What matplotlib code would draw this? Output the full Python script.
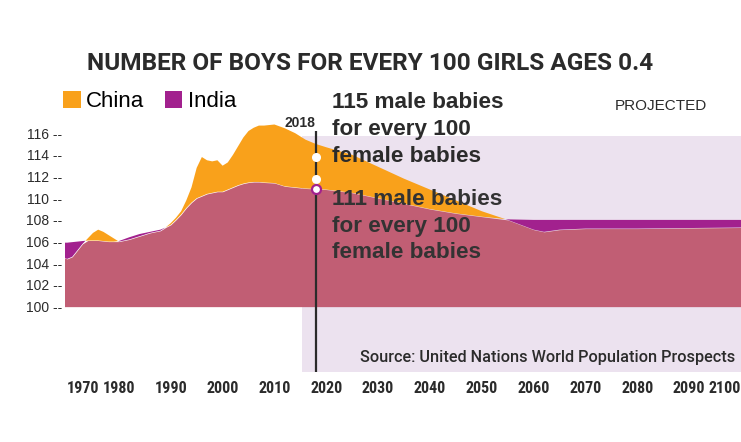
import numpy as np
import matplotlib
matplotlib.use("Agg")
import matplotlib.pyplot as plt
from matplotlib.patches import Patch, Rectangle
from matplotlib import font_manager as fm

# ---------------- data ----------------
years = [1969, 1970, 1971, 1972, 1973, 1974, 1975, 1976, 1977, 1978, 1979, 1980,
         1982, 1984, 1986, 1988, 1989, 1990, 1991, 1992, 1993, 1994, 1995, 1996,
         1997, 1998, 1999, 2000, 2001, 2002, 2003, 2004, 2005, 2006, 2007, 2008,
         2010, 2012, 2014, 2016, 2018, 2020, 2025, 2030, 2035, 2040, 2045, 2050,
         2055, 2060, 2062, 2065, 2070, 2080, 2090, 2100]
china = [104.6, 104.4, 104.6, 105.2, 105.8, 106.3, 106.8, 107.1, 106.9, 106.6, 106.3, 106.0,
         106.2, 106.5, 106.8, 107.0, 107.3, 107.7, 108.2, 108.8, 109.8, 111.0, 112.8, 113.8,
         113.5, 113.4, 113.5, 113.0, 113.3, 114.0, 114.8, 115.6, 116.2, 116.5, 116.7, 116.7,
         116.8, 116.45, 116.0, 115.4, 115.0, 114.7, 114.0, 112.9, 111.8, 110.8, 109.8, 108.8,
         108.0, 107.1, 106.9, 107.1, 107.2, 107.2, 107.25, 107.3]
india = [105.9, 105.9, 105.95, 106.0, 106.05, 106.1, 106.1, 106.1, 106.05, 106.0, 106.0, 106.05,
         106.4, 106.7, 106.9, 107.1, 107.3, 107.55, 108.0, 108.5, 109.1, 109.6, 110.0, 110.2,
         110.4, 110.5, 110.6, 110.6, 110.8, 111.0, 111.2, 111.35, 111.45, 111.5, 111.5, 111.45,
         111.4, 111.1, 111.0, 110.9, 110.85, 110.8, 110.5, 110.0, 109.5, 109.0, 108.6, 108.3,
         108.05, 108.0, 108.0, 108.0, 108.0, 108.0, 108.0, 108.0]
series_names = ["China", "India"]
x_ticks = [1970, 1980, 1990, 2000, 2010, 2020, 2030, 2040, 2050, 2060, 2070, 2080, 2090, 2100]
y_ticks = [100, 102, 104, 106, 108, 110, 112, 114, 116]
marker_year = 2018
marker_values = [113.84, 111.8]       # white dots on the 2018 line
india_marker_value = 110.85           # ring dot on India curve
projected_start = 2015.3
projected_top = 115.7

# ---------------- style ----------------
ORANGE = "#F9A11B"
PURPLE = "#A2218E"
ROSE = "#C15E74"
LAVENDER = "#ECE2EF"
DARK = "#2B2B2B"

W, H = 741, 442
fig = plt.figure(figsize=(W / 100, H / 100), dpi=100)

installed = {f.name for f in fm.fontManager.ttflist}
NARROW = [f for f in ["Liberation Sans Narrow", "Roboto Condensed", "Roboto", "DejaVu Sans"]
          if f in installed][:1] + ["DejaVu Sans"]
ROBO = [f for f in ["Roboto", "Liberation Sans"] if f in installed][:1] + ["DejaVu Sans"]
SANS = ["Liberation Sans", "DejaVu Sans"]

def fx(px):
    return px / W

def fy(py):
    return 1 - py / H

def fit_width(txt, target_px):
    r = fig.canvas.get_renderer()
    w = txt.get_window_extent(renderer=r).width
    txt.set_fontsize(txt.get_fontsize() * target_px / w)

ax_left, ax_right, ax_top, ax_bot = 65, 741, 89.8, 371.7
ax = fig.add_axes([fx(ax_left), fy(ax_bot), (ax_right - ax_left) / W, (ax_bot - ax_top) / H])
ax.set_xlim(1969.6, 2100)
ax.set_ylim(94, 120)
for s in ax.spines.values():
    s.set_visible(False)

# projected region
ax.add_patch(Rectangle((projected_start, 94), 2100 - projected_start, projected_top - 94,
                       facecolor=LAVENDER, edgecolor="none", zorder=0))

yr = np.array(years, dtype=float)
c = np.array(china)
i = np.array(india)
base = np.minimum(c, i)
ax.fill_between(yr, 100, base, color=ROSE, lw=0, zorder=2)
ax.fill_between(yr, i, c, where=c >= i, interpolate=True, color=ORANGE, lw=0, zorder=2)
ax.fill_between(yr, c, i, where=i > c, interpolate=True, color=PURPLE, lw=0, zorder=2)

# 2018 line and markers
ax.plot([marker_year, marker_year], [94, 116.2], color=DARK, lw=1.6, zorder=4, solid_capstyle="butt")
ax.plot([marker_year] * len(marker_values), marker_values, "o", ms=5.5, mfc="white",
        mec="white", zorder=5)
ax.plot([marker_year], [india_marker_value], "o", ms=6.5, mfc="white", mec=PURPLE, mew=1.6, zorder=5)
ax.text(marker_year - 3.1, 116.6, "2018", ha="center", va="baseline", fontsize=10,
        fontweight="bold", family=SANS, color=DARK, zorder=6)

# ticks
ax.set_yticks(y_ticks)
ax.set_yticklabels([f"{v} --" for v in y_ticks], family=SANS, fontsize=10, color=DARK)
ax.set_xticks(x_ticks)
ax.set_xticklabels([str(v) for v in x_ticks], family=NARROW, fontsize=11.5,
                   fontweight="bold", color=DARK)
ax.tick_params(axis="both", length=0)
ax.tick_params(axis="y", pad=2)
ax.tick_params(axis="x", pad=7)
xl = ax.get_xticklabels()
xl[0].set_ha("left")
xl[-1].set_ha("right")

# title
title = fig.text(fx(370), fy(69.5), "NUMBER OF BOYS FOR EVERY 100 GIRLS AGES 0.4", ha="center",
                 va="baseline", fontsize=15.5, fontweight="bold", family=ROBO, color=DARK)
fit_width(title, 565)

# legend
handles = [Patch(facecolor=ORANGE, edgecolor="none"), Patch(facecolor=PURPLE, edgecolor="none")]
fig.legend(handles, series_names, loc="upper left", bbox_to_anchor=(fx(63), fy(91)),
           frameon=False, handlelength=0.8, handleheight=0.8,
           handletextpad=0.25, columnspacing=0.9, ncol=2, borderpad=0, borderaxespad=0,
           prop={"family": SANS, "size": 16})

# annotations
for k, line in enumerate(["115 male babies", "for every 100", "female babies"]):
    fig.text(fx(332), fy(108.3 + 26.7 * k), line, ha="left", va="baseline", fontsize=16.2,
             fontweight="bold", family=SANS, color=DARK, zorder=10)
for k, line in enumerate(["111 male babies", "for every 100", "female babies"]):
    fig.text(fx(332), fy(205 + 26.7 * k), line, ha="left", va="baseline", fontsize=16.2,
             fontweight="bold", family=SANS, color="#333333", zorder=10)

fig.text(fx(707), fy(110), "PROJECTED", ha="right", va="baseline", fontsize=11,
         family=SANS, color=DARK)
src = fig.text(fx(735), fy(361.7), "Source: United Nations World Population Prospects", ha="right",
               va="baseline", fontsize=12, fontweight="medium", family=ROBO, color=DARK)
fit_width(src, 373)

fig.savefig("out.png", dpi=100)
